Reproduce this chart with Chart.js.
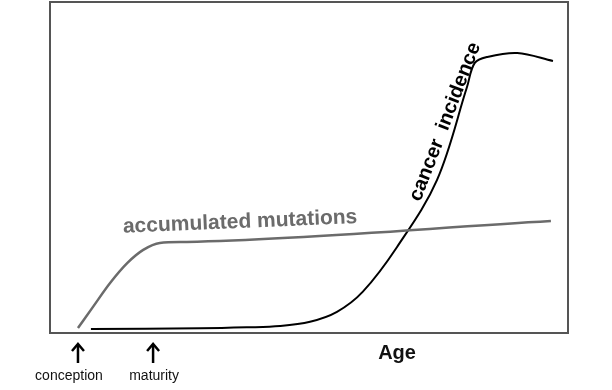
<!DOCTYPE html>
<html>
<head>
<meta charset="utf-8">
<script src="https://cdn.jsdelivr.net/npm/chart.js@4"></script>
<style>
  html, body { margin: 0; padding: 0; background: #fff; }
  #wrap { width: 612px; height: 390px; }
</style>
</head>
<body>
<div id="wrap"><canvas id="c"></canvas></div>
<script>
// values (age 0..100, level 0..100)
var mutX = [5.4, 8.3, 11.6, 14.9, 18.0, 21.2, 26.4, 96.7];
var mutY = [1.5, 7.9, 15.1, 21.1, 25.1, 27.2, 27.5, 33.8];

var cancerX = [7.9, 29, 38, 44.4, 50.2, 55.4, 60.4, 67.0, 74.7, 80.5, 82, 84.4, 90.2, 97.1];
var cancerY = [1.2, 1.4, 1.7, 2.1, 3.4, 6.4, 12.5, 26.0, 46.2, 74.3, 81.6, 83.4, 84.6, 82.2];

var markAges = [5.4, 19.9];
var markNames = ['conception', 'maturity'];

function pts(xs, ys) {
  return xs.map(function (x, i) { return { x: x, y: ys[i] }; });
}

var decor = {
  id: 'decor',
  afterDatasetsDraw: function (chart) {
    var ctx = chart.ctx, a = chart.chartArea;
    var sx = chart.scales.x, sy = chart.scales.y;
    ctx.save();
    // frame
    ctx.strokeStyle = '#555';
    ctx.lineWidth = 2;
    ctx.strokeRect(a.left, a.top, a.right - a.left, a.bottom - a.top);

    // arrows + names
    ctx.lineWidth = 2.5;
    ctx.textAlign = 'center';
    ctx.textBaseline = 'middle';
    markAges.forEach(function (v, i) {
      var px = sx.getPixelForValue(v);
      ctx.strokeStyle = '#000';
      ctx.beginPath();
      ctx.moveTo(px, a.bottom + 30);
      ctx.lineTo(px, a.bottom + 13);
      ctx.stroke();
      ctx.beginPath();
      ctx.moveTo(px - 6, a.bottom + 18);
      ctx.lineTo(px, a.bottom + 11);
      ctx.lineTo(px + 6, a.bottom + 18);
      ctx.stroke();
      ctx.font = '14px "Liberation Sans", Arial, sans-serif';
      ctx.fillStyle = '#111';
      ctx.fillText(markNames[i], i === 0 ? px - 9 : px + 1, a.bottom + 43);
    });

    // axis name
    ctx.font = 'bold 20px "Liberation Sans", Arial, sans-serif';
    ctx.fillStyle = '#111';
    ctx.fillText('Age', sx.getPixelForValue(67), a.bottom + 20);

    // curve names
    ctx.save();
    ctx.translate(sx.getPixelForValue(36.7), sy.getPixelForValue(33.5));
    ctx.rotate(-2.4 * Math.PI / 180);
    ctx.font = 'bold 21px "Liberation Sans", Arial, sans-serif';
    ctx.fillStyle = '#6b6b6b';
    ctx.fillText('accumulated mutations', 0, 0);
    ctx.restore();

    ctx.save();
    ctx.translate(sx.getPixelForValue(76.3), sy.getPixelForValue(63.8));
    ctx.rotate(-69 * Math.PI / 180);
    ctx.font = 'bold 20px "Liberation Sans", Arial, sans-serif';
    ctx.fillStyle = '#000';
    ctx.fillText('cancer  incidence', 0, 0);
    ctx.restore();

    ctx.restore();
  }
};

new Chart(document.getElementById('c'), {
  type: 'line',
  data: {
    datasets: [{
      label: 'accumulated mutations',
      data: pts(mutX, mutY),
      borderColor: '#6b6b6b',
      borderWidth: 2.5,
      pointRadius: 0,
      cubicInterpolationMode: 'monotone'
    }, {
      label: 'cancer incidence',
      data: pts(cancerX, cancerY),
      borderColor: '#000',
      borderWidth: 2,
      pointRadius: 0,
      tension: 0.35
    }]
  },
  options: {
    responsive: true,
    maintainAspectRatio: false,
    animation: false,
    layout: { padding: { left: 50, top: 2, right: 44, bottom: 57 } },
    plugins: { legend: { display: false }, tooltip: { enabled: false } },
    scales: {
      x: { type: 'linear', min: 0, max: 100, display: false },
      y: { min: 0, max: 100, display: false }
    }
  },
  plugins: [decor]
});
</script>
</body>
</html>
